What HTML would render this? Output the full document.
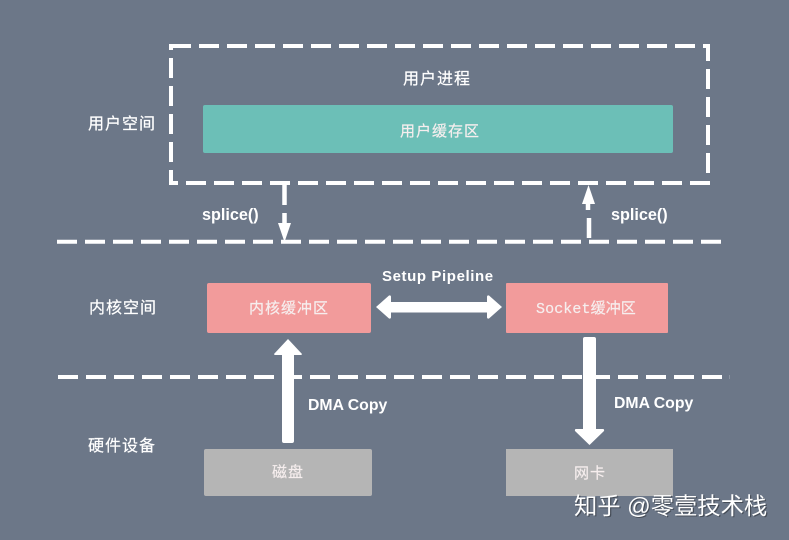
<!DOCTYPE html>
<html>
<head>
<meta charset="utf-8">
<style>
html,body{margin:0;padding:0;background:#6c7788;}
svg{display:block;}
text{fill:#fff;}
.z{font-family:"Liberation Sans","Noto Sans CJK SC",sans-serif;font-size:16px;letter-spacing:1px;stroke:#fff;stroke-width:.2px;}
.e{font-family:"Liberation Sans",sans-serif;font-size:16px;font-weight:bold;}
.in{fill:#f6eeee;stroke:#f6eeee;font-size:15px;letter-spacing:1px;}
</style>
</head>
<body>
<svg width="789" height="540" viewBox="0 0 789 540" xmlns="http://www.w3.org/2000/svg">
<rect width="789" height="540" fill="#6c7788"/>

<!-- boxes -->
<rect x="203" y="105" width="470" height="48" rx="2" fill="#6cbfb7"/>
<rect x="207" y="283" width="164" height="50" rx="2" fill="#f29b9b"/>
<rect x="506" y="283" width="162" height="50" rx="1" fill="#f29b9b"/>
<rect x="204" y="449" width="168" height="47" rx="2" fill="#b5b5b5"/>
<rect x="506" y="449" width="167" height="47" fill="#b5b5b5"/>

<!-- dashed -->
<path d="M171 46H708V183H171Z" fill="none" stroke="#fff" stroke-width="4" stroke-dasharray="20 8"/>
<line x1="57" y1="241.700" x2="721" y2="241.700" stroke="#fff" stroke-width="4" stroke-dasharray="20 8"/>
<line x1="58" y1="377" x2="722" y2="377" stroke="#fff" stroke-width="4" stroke-dasharray="20 8"/>
<line x1="729.500" y1="375" x2="729.500" y2="379" stroke="#8a93a1" stroke-width="1"/>

<!-- splice arrows -->
<path d="M284.500 184V205M284.500 213V225" stroke="#fff" stroke-width="4.500" fill="none"/>
<polygon points="278,223 291,223 284.500,242" fill="#fff"/>
<path d="M589 238V218M588 210V203" stroke="#fff" stroke-width="4.500" fill="none"/>
<polygon points="582,204 595,204 588.500,185" fill="#fff"/>

<!-- double arrow -->
<path d="M376 307L389 295.500Q391 295 391 297V302H487V297Q487 295 489 295.500L502 307L489 318.500Q487 319 487 317V312.500H391V317Q391 319 389 318.500Z" fill="#fff"/>

<!-- up arrow -->
<path d="M288 339L302 354Q302 355 300 355H294V441Q294 443 292 443H284Q282 443 282 441V355H276Q274 355 274 354Z" fill="#fff"/>
<!-- down arrow -->
<path d="M585 337H594Q596 337 596 339V429H603Q604.500 429 604 431L589.500 445L575 431Q574.500 429 576 429H583V339Q583 337 585 337Z" fill="#fff"/>

<!-- labels -->
<text class="z" x="403" y="84">用户进程</text>
<text class="z in" x="400" y="136">用户缓存区</text>
<text class="z" x="88" y="129">用户空间</text>
<text class="z" x="89" y="313">内核空间</text>
<text class="z" x="88" y="451">硬件设备</text>
<text class="z in" x="249" y="313">内核缓冲区</text>
<text x="536" y="313" style="font-family:'Liberation Mono','Noto Sans CJK SC',monospace;font-size:15px;letter-spacing:.1px;fill:#f6eeee;stroke:#f6eeee;stroke-width:.2px">Socket缓冲区</text>
<text class="z in" x="272" y="477">磁盘</text>
<text class="z in" x="574" y="478">网卡</text>

<text class="e" x="202" y="220" style="font-size:16.200px">splice()</text>
<text class="e" x="611" y="220" style="font-size:16.200px">splice()</text>
<text class="e" x="382" y="281" style="font-size:15px;letter-spacing:.6px">Setup Pipeline</text>
<text class="e" x="308" y="410" style="font-size:15.800px">DMA Copy</text>
<text class="e" x="614" y="408" style="font-size:15.800px">DMA Copy</text>

<text x="574" y="514" style="font-family:'Liberation Sans','Noto Sans CJK SC',sans-serif;font-size:23.300px;fill:#000;opacity:.35" transform="translate(1.200 1.200)">知乎 @零壹技术栈</text>
<text x="574" y="514" style="font-family:'Liberation Sans','Noto Sans CJK SC',sans-serif;font-size:23.300px">知乎 @零壹技术栈</text>
</svg>
</body>
</html>
